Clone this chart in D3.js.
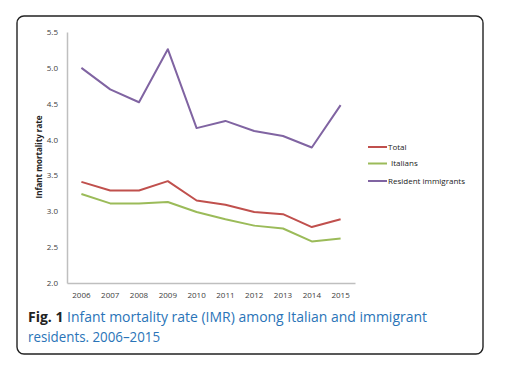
<!DOCTYPE html>
<html><head><meta charset="utf-8">
<script src="https://cdn.jsdelivr.net/npm/d3@7"></script>
<style>body{margin:0;background:#fff;}svg{display:block;}</style>
</head><body>
<svg id="c" width="525" height="378"></svg>
<script>
const years = ["2006","2007","2008","2009","2010","2011","2012","2013","2014","2015"];
const total = [3.41,3.29,3.29,3.42,3.15,3.09,2.99,2.96,2.78,2.89];
const italians = [3.24,3.11,3.11,3.13,2.99,2.89,2.80,2.76,2.58,2.62];
const immigrants = [5.00,4.70,4.52,5.26,4.16,4.26,4.12,4.05,3.89,4.48];
const seriesNames = ["Total","Italians","Resident immigrants"];
const yTicks = [2.0,2.5,3.0,3.5,4.0,4.5,5.0,5.5];

const colors = ["#c0504d","#9bbb59","#8064a2"];
const seriesData = [total, italians, immigrants];
const svg = d3.select("#c");
const font = "'Open Sans', 'Noto Sans', sans-serif";
const capFont = "'Open Sans', Lato, sans-serif";

// frame
svg.append("rect").attr("x",17).attr("y",16).attr("width",466).attr("height",338)
  .attr("rx",7).attr("fill","none").attr("stroke","#222").attr("stroke-width",1.4);

const x = d3.scaleBand().domain(years).range([67,355]);
const y = d3.scaleLinear().domain([2.0,5.5]).range([283,32]);

const yAxis = svg.append("g").attr("transform","translate(67,0)")
  .call(d3.axisLeft(y).tickValues(yTicks).tickFormat(d3.format(".1f")).tickSize(0).tickPadding(9));
yAxis.select(".domain").attr("stroke","#bfbfbf").attr("stroke-width",1.5);
yAxis.selectAll("text").attr("font-family",font).attr("font-size",8).attr("fill","#404040");

const xAxis = svg.append("g").attr("transform","translate(0,283)")
  .call(d3.axisBottom(x).tickSize(0).tickPadding(9));
xAxis.select(".domain").attr("stroke","#bfbfbf").attr("stroke-width",1.5);
xAxis.selectAll("text").attr("font-family",font).attr("font-size",8).attr("fill","#404040");

svg.append("text").attr("transform","translate(42,157) rotate(-90)")
  .attr("text-anchor","middle").attr("font-family",font).attr("font-size",8)
  .attr("font-weight","bold").attr("fill","#222").text("Infant  mortality  rate");

const line = d3.line().x((d,i)=>x(years[i])+x.bandwidth()/2).y(d=>y(d));
seriesData.forEach((s,k)=>{
  svg.append("path").datum(s).attr("d",line).attr("fill","none")
    .attr("stroke",colors[k]).attr("stroke-width",2).attr("stroke-linejoin","round");
});

// legend
const legY = [147,163.5,181];
seriesNames.forEach((n,k)=>{
  svg.append("line").attr("x1",368).attr("x2",387).attr("y1",legY[k]).attr("y2",legY[k])
    .attr("stroke",colors[k]).attr("stroke-width",2);
  svg.append("text").attr("x", k===1?391:388).attr("y",legY[k]).attr("dy","0.35em")
    .attr("font-family",font).attr("font-size",8).attr("fill","#222").text(n);
});

// caption
const cap = svg.append("text").attr("x",28).attr("y",322).attr("font-family",capFont).attr("font-size",14.5)
  .attr("textLength",399).attr("lengthAdjust","spacingAndGlyphs");
cap.append("tspan").attr("font-weight","bold").attr("fill","#222").text("Fig. 1");
cap.append("tspan").attr("fill","#2a74b8").text(" Infant mortality rate (IMR) among Italian and immigrant");
svg.append("text").attr("x",28).attr("y",342).attr("font-family",capFont).attr("font-size",14.5)
  .attr("textLength",132).attr("lengthAdjust","spacingAndGlyphs")
  .attr("fill","#2a74b8").text("residents. 2006–2015");
</script>
</body></html>
